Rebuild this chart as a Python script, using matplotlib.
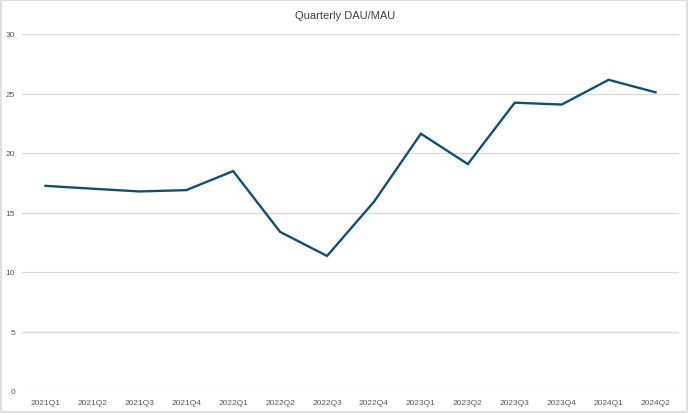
import matplotlib.pyplot as plt
from matplotlib.patches import Rectangle

quarters = ['2021Q1', '2021Q2', '2021Q3', '2021Q4', '2022Q1', '2022Q2', '2022Q3',
            '2022Q4', '2023Q1', '2023Q2', '2023Q3', '2023Q4', '2024Q1', '2024Q2']
dau_mau = [17.24, 17.0, 16.77, 16.88, 18.48, 13.37, 11.35,
           15.9, 21.62, 19.07, 24.23, 24.07, 26.15, 25.1]
y_ticks = [0, 5, 10, 15, 20, 25, 30]

plt.rcParams['font.family'] = ['Liberation Sans', 'DejaVu Sans']

fig = plt.figure(figsize=(6.9, 4.14), dpi=100)
ax = fig.add_axes([22 / 690, 22 / 414, 657 / 690, 357 / 414])

x = list(range(len(quarters)))
ax.plot(x, dau_mau, color='#124f72', linewidth=1.7, solid_joinstyle='miter')

ax.set_xlim(-0.5, len(quarters) - 0.5)
ax.set_ylim(0, 30)
ax.set_yticks(y_ticks)
ax.set_xticks(x)
ax.set_xticklabels(quarters)
ax.grid(axis='y', color='#d9d9d9', linewidth=0.9)
ax.set_axisbelow(True)
for s in ax.spines.values():
    s.set_visible(False)
ax.tick_params(axis='both', length=0, labelsize=6, colors='#595959')
ax.tick_params(axis='x', pad=6)
ax.tick_params(axis='y', pad=5)

fig.text(0.5, 0.961, 'Quarterly DAU/MAU', ha='center', va='center',
         fontsize=8, color='#404040')

# chart border
fig.patches.append(Rectangle((1 / 690, 1 / 414), 686 / 690, 412 / 414,
                             transform=fig.transFigure, fill=False,
                             edgecolor='#d9d9d9', linewidth=1.2))

plt.savefig('out.png', dpi=100)
